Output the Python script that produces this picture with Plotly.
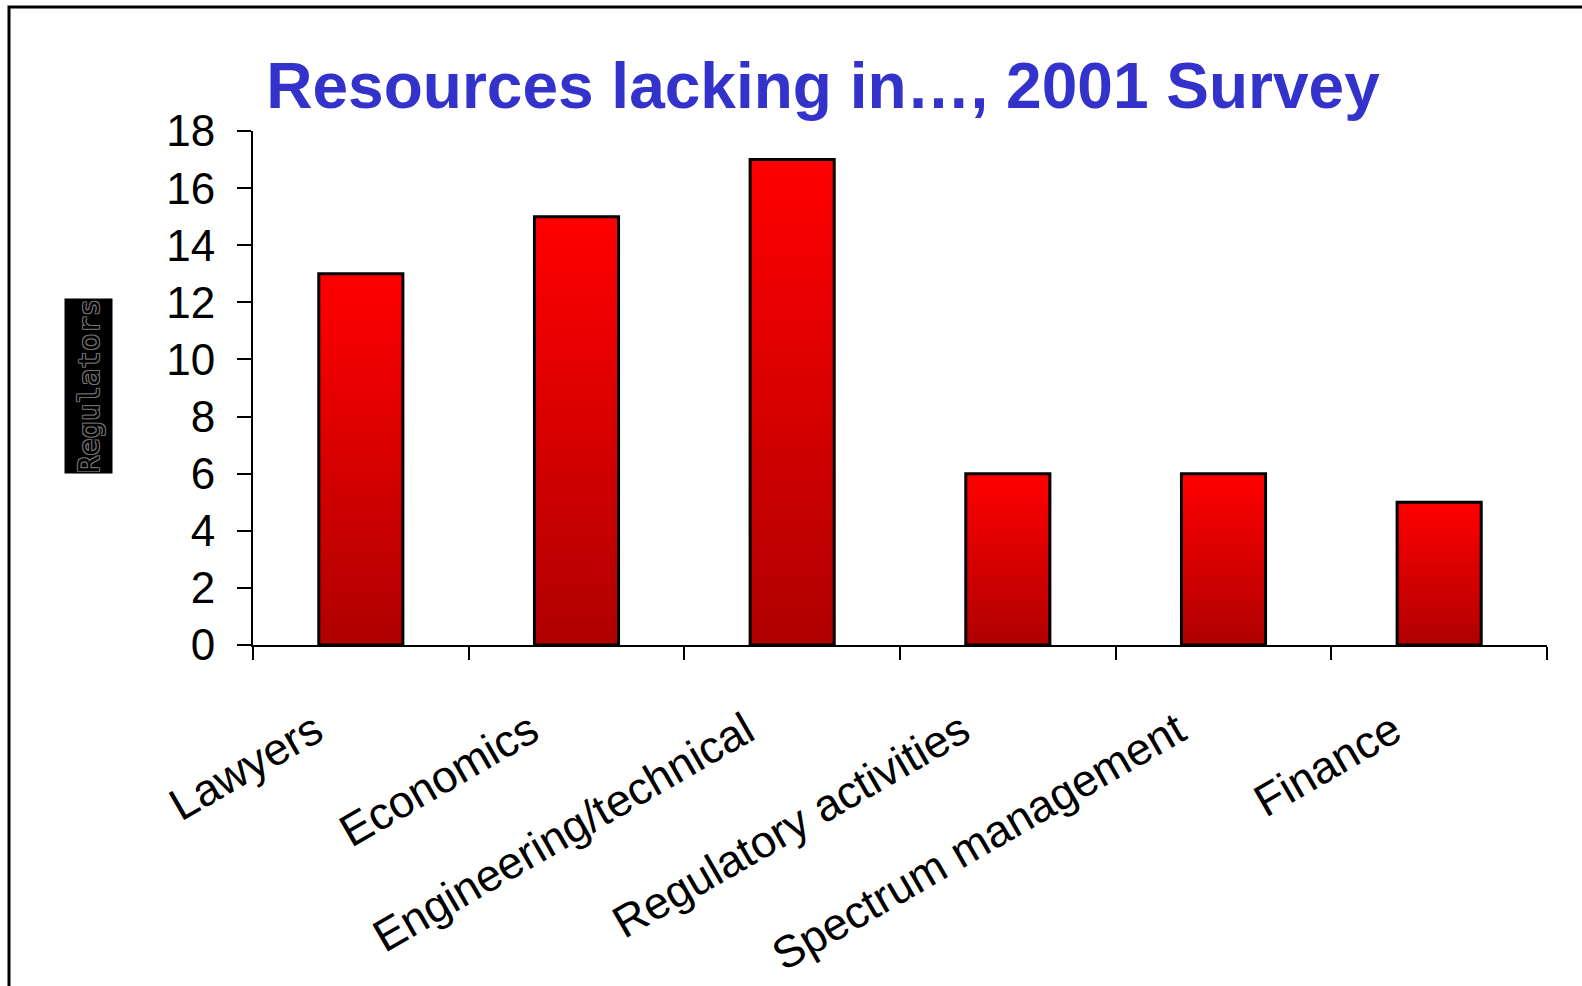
import plotly.graph_objects as go

categories = ["Lawyers", "Economics", "Engineering/technical",
              "Regulatory activities", "Spectrum management", "Finance"]
values = [13, 15, 17, 6, 6, 5]
y_ticks = [0, 2, 4, 6, 8, 10, 12, 14, 16, 18]

W, H = 1582, 986
L, R, T, B = 253, 1547, 131, 645

top_rgb = (255, 0, 0)
bot_rgb = (176, 0, 0)
N = 60

fig = go.Figure()
for i in range(N):
    f = i / (N - 1)
    c = tuple(round(bot_rgb[k] + (top_rgb[k] - bot_rgb[k]) * f) for k in range(3))
    fig.add_trace(go.Bar(
        x=categories,
        y=[v - v * i / N for v in values],
        base=[v * i / N for v in values],
        width=0.39,
        marker=dict(color="rgb(%d,%d,%d)" % c, line=dict(width=0)),
        hoverinfo="skip", showlegend=False,
    ))
fig.add_trace(go.Bar(
    x=categories, y=values, width=0.39,
    marker=dict(color="rgba(0,0,0,0)", line=dict(color="black", width=3)),
    showlegend=False,
))

fig.update_layout(
    width=W, height=H,
    margin=dict(l=L, r=W - R, t=T, b=H - B, pad=0, autoexpand=False),
    barmode="overlay",
    plot_bgcolor="white", paper_bgcolor="white",
    font=dict(family="Liberation Sans, Arial, sans-serif", color="black"),
    title=dict(
        text="<b>Resources lacking in…, 2001 Survey</b>",
        font=dict(size=64, color="#3333CC", family="Liberation Sans, Arial, sans-serif"),
        x=823 / W, xref="container", xanchor="center",
        y=1 - 108 / H, yref="container", yanchor="bottom",
    ),
    xaxis=dict(
        showline=True, linecolor="black", linewidth=2, automargin=False,
        ticks="outside", tickson="boundaries", ticklen=13, tickwidth=2, tickcolor="black",
        tickangle=-30, tickfont=dict(size=45),
        ticklabelstandoff=40, ticklabelshift=-46,
        showgrid=False, zeroline=False, fixedrange=True,
    ),
    yaxis=dict(
        range=[0, 18], tickvals=y_ticks, automargin=False,
        showline=True, linecolor="black", linewidth=2,
        ticks="outside", ticklen=14, tickwidth=2, tickcolor="black",
        tickfont=dict(size=44), ticklabelstandoff=13,
        showgrid=False, zeroline=False, fixedrange=True,
    ),
    shapes=[dict(
        type="rect", xref="paper", yref="paper",
        x0=(9 - L) / (R - L), x1=1.2,
        y0=-1.0, y1=(B - 7) / (B - T),
        line=dict(color="black", width=3), fillcolor="rgba(0,0,0,0)",
        layer="below",
    )],
    annotations=[dict(
        text="Regulators", textangle=-90,
        xref="paper", yref="paper",
        x=(88 - L) / (R - L), y=(B - 386) / (B - T),
        xanchor="center", yanchor="middle",
        showarrow=False, bgcolor="black",
        width=172, height=45,
        font=dict(family="DejaVu Sans Mono, monospace", size=29, color="black",
                  shadow="-1px -1px 0 #707070, 1px -1px 0 #707070, -1px 1px 0 #707070, 1px 1px 0 #707070"),
    )],
)

fig.write_html("out.html", config={"displayModeBar": False},
               post_script="document.body.style.margin='0px';")
